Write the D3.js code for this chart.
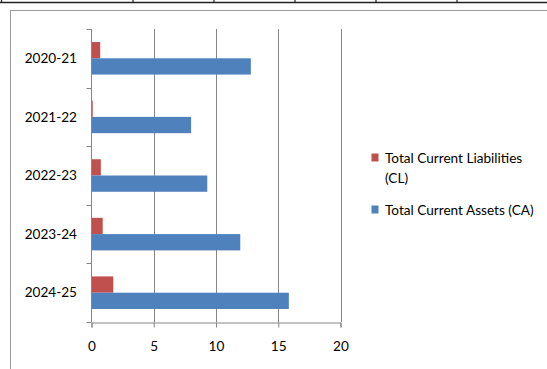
<!DOCTYPE html>
<html>
<head>
<meta charset="utf-8">
<script src="https://cdn.jsdelivr.net/npm/d3@7"></script>
<style>
  body { margin: 0; background: #fff; }
  svg { display: block; font-family: Lato, "Open Sans", sans-serif; }
</style>
</head>
<body>
<div id="chart"></div>
<script>
// years, top to bottom
var categories = ["2020-21", "2021-22", "2022-23", "2023-24", "2024-25"];
var liabilities = [0.7, 0.1, 0.75, 0.9, 1.75];   // Total Current Liabilities (CL)
var assets = [12.8, 8.0, 9.3, 11.95, 15.85];       // Total Current Assets (CA)
var seriesNames = ["Total Current Liabilities (CL)", "Total Current Assets (CA)"];
var xTicks = [0, 5, 10, 15, 20];

var width = 547, height = 369,
    fontSize = "13.6px";
var svg = d3.select("#chart").append("svg")
    .attr("width", width).attr("height", height);

// table row above the chart
svg.append("line").attr("x1", 0).attr("x2", width).attr("y1", 2.5).attr("y2", 2.5)
    .style("stroke", "#222").style("stroke-width", 1.5);
[1.5, 133, 214, 295, 376, 457].forEach(function (x) {
    svg.append("line").attr("x1", x).attr("x2", x).attr("y1", 0).attr("y2", 3)
        .style("stroke", "#222").style("stroke-width", 1.2);
});

// chart frame
svg.append("rect").attr("x", 10.5).attr("y", 10.5).attr("width", 560).attr("height", 380)
    .style("fill", "none").style("stroke", "#9a9a9a").style("stroke-width", 1);

var plot = { left: 91.5, right: 340.5, top: 29, bottom: 322 };

var x = d3.scaleLinear().domain([0, 20]).range([plot.left, plot.right]);
var y = d3.scaleBand().domain(categories).range([plot.top, plot.bottom]);
var inner = d3.scaleBand().domain([0, 1]).range([0, y.bandwidth()]).paddingInner(0).paddingOuter(0.8);

// vertical gridlines
svg.append("g").selectAll("line")
    .data(xTicks.slice(1))
    .enter().append("line")
    .attr("x1", function (d) { return Math.round(x(d)) + 0.5; })
    .attr("x2", function (d) { return Math.round(x(d)) + 0.5; })
    .attr("y1", plot.top).attr("y2", plot.bottom)
    .style("stroke", "#868686").style("stroke-width", 1);

// bars
var rows = categories.map(function (c, i) { return { cat: c, vals: [liabilities[i], assets[i]] }; });
var colors = ["#C0504D", "#4F81BD"];
var g = svg.append("g").selectAll("g").data(rows).enter().append("g")
    .attr("transform", function (d) { return "translate(0," + y(d.cat) + ")"; });
g.selectAll("rect")
    .data(function (d) { return d.vals; })
    .enter().append("rect")
    .attr("x", x(0))
    .attr("y", function (d, i) { return inner(i); })
    .attr("height", inner.bandwidth())
    .attr("width", function (d) { return x(d) - x(0); })
    .style("fill", function (d, i) { return colors[i]; });

// x axis
var xAxis = svg.append("g")
    .attr("transform", "translate(0," + (plot.bottom + 0.5) + ")")
    .call(d3.axisBottom(x).tickValues(xTicks).tickSize(5).tickPadding(14));
xAxis.select(".domain").style("stroke", "#868686");
xAxis.selectAll(".tick line").style("stroke", "#868686");
xAxis.selectAll("text").style("font-size", fontSize).style("fill", "#000")
    .style("font-family", "Lato, 'Open Sans', sans-serif");

// y axis: line with ticks at band boundaries
svg.append("line").attr("x1", plot.left).attr("x2", plot.left)
    .attr("y1", plot.top).attr("y2", plot.bottom)
    .style("stroke", "#868686");
var bounds = categories.map(function (c) { return y(c); }).concat([plot.bottom]);
svg.append("g").selectAll("line").data(bounds).enter().append("line")
    .attr("x1", plot.left - 5).attr("x2", plot.left)
    .attr("y1", function (d) { return Math.round(d) + 0.5; })
    .attr("y2", function (d) { return Math.round(d) + 0.5; })
    .style("stroke", "#868686");
svg.append("g").selectAll("text").data(categories).enter().append("text")
    .attr("x", 77)
    .attr("y", function (d) { return y(d) + y.bandwidth() / 2; })
    .attr("dy", "0.35em")
    .attr("text-anchor", "end")
    .style("font-size", fontSize)
    .text(function (d) { return d; });

// legend
var legend = svg.append("g");
legend.append("rect").attr("x", 371.5).attr("y", 153.5).attr("width", 7).attr("height", 8)
    .style("fill", colors[0]);
legend.append("text").attr("x", 385).attr("y", 163).style("font-size", fontSize)
    .text("Total Current Liabilities");
legend.append("text").attr("x", 385).attr("y", 183).style("font-size", fontSize)
    .text("(CL)");
legend.append("rect").attr("x", 371.5).attr("y", 205.5).attr("width", 7).attr("height", 8)
    .style("fill", colors[1]);
legend.append("text").attr("x", 385).attr("y", 215).style("font-size", fontSize)
    .text(seriesNames[1]);
</script>
</body>
</html>
